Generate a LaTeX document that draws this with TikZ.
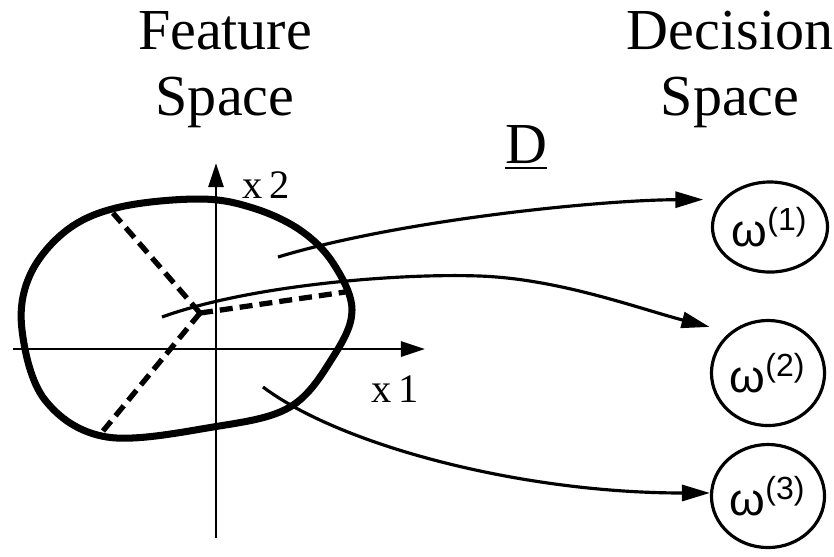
\documentclass[tikz,border=0pt]{standalone}
\usepackage{fontspec}
\setmainfont{Liberation Serif}
\setsansfont{Liberation Sans}
\usetikzlibrary{arrows.meta,positioning,shapes.geometric}
\tikzset{
  blob/.style={line width=2pt,line join=round},
  part/.style={line width=1.5pt,dash pattern=on 0.13cm off 0.07cm},
  axis/.style={-{Triangle[length=0.24cm,width=0.15cm]},line width=0.8pt},
  maparrow/.style={-{Triangle[length=0.28cm,width=0.16cm]},line width=0.9pt},
  cls/.style={ellipse,draw,line width=0.9pt,inner sep=0pt,
              font=\sffamily\fontsize{13}{15}\selectfont},
  ttl/.style={align=center,font=\fontsize{16.5}{18.5}\selectfont},
  lbl/.style={font=\fontsize{11.5}{13}\selectfont},
}

\begin{document}
\begin{tikzpicture}[x=0.01cm,y=-0.01cm]
  \useasboundingbox (0,0) rectangle (834,556);
  % titles
  \node[ttl,anchor=base](fspace) at (225,115){Feature\\Space};
  \node[ttl,anchor=base](dspace) at (730,115){Decision\\Space};
  \node[ttl,anchor=base](map) at (526,163){\underline{D}};
  % feature axes
  \draw[axis] (13,349) -- (425,349);
  \draw[axis] (216,538) -- (216,163);
  \node[lbl,anchor=base](xa) at (395,402){x\,1};
  \node[lbl,anchor=base](xb) at (266,198){x\,2};
  % region and its partition
  \draw[blob] plot[smooth cycle,tension=0.6] coordinates {
    (107,437) (213,427) (290,407) (333,357) (352,310) (333,263)
    (300,230) (253,208) (200,199) (120,207) (67,230) (30,275)
    (22,330) (45,400)};
  \coordinate (J) at (200,313);
  \draw[part] (J) -- (113,213);
  \draw[part] (J) -- (345,292);
  \draw[part] (J) -- (103,431);
  % decision classes
  \node[cls,minimum width=1.15cm,minimum height=0.9cm](w1) at (770,227){ω\textsuperscript{(1)}};
  \node[cls,minimum width=1.13cm,minimum height=1.05cm](w2) at (768,373){ω\textsuperscript{(2)}};
  \node[cls,minimum width=1.13cm,minimum height=1.03cm](w3) at (768,496){ω\textsuperscript{(3)}};
  % the map D
  \coordinate (s1) at (278,257);
  \coordinate (s2) at (162,317);
  \coordinate (s3) at (263,387);
  \draw[maparrow,shorten >=0.19cm] (s1) .. controls (400,220) and (600,200) .. (w1.150);
  \draw[maparrow,shorten >=0.21cm] (s2) .. controls (250,285) and (400,273) .. (480,276)
    .. controls (560,279) and (640,309) .. (w2.133);
  \draw[maparrow] (s3) .. controls (340,445) and (520,493) .. (w3.177);
\end{tikzpicture}
\end{document}
